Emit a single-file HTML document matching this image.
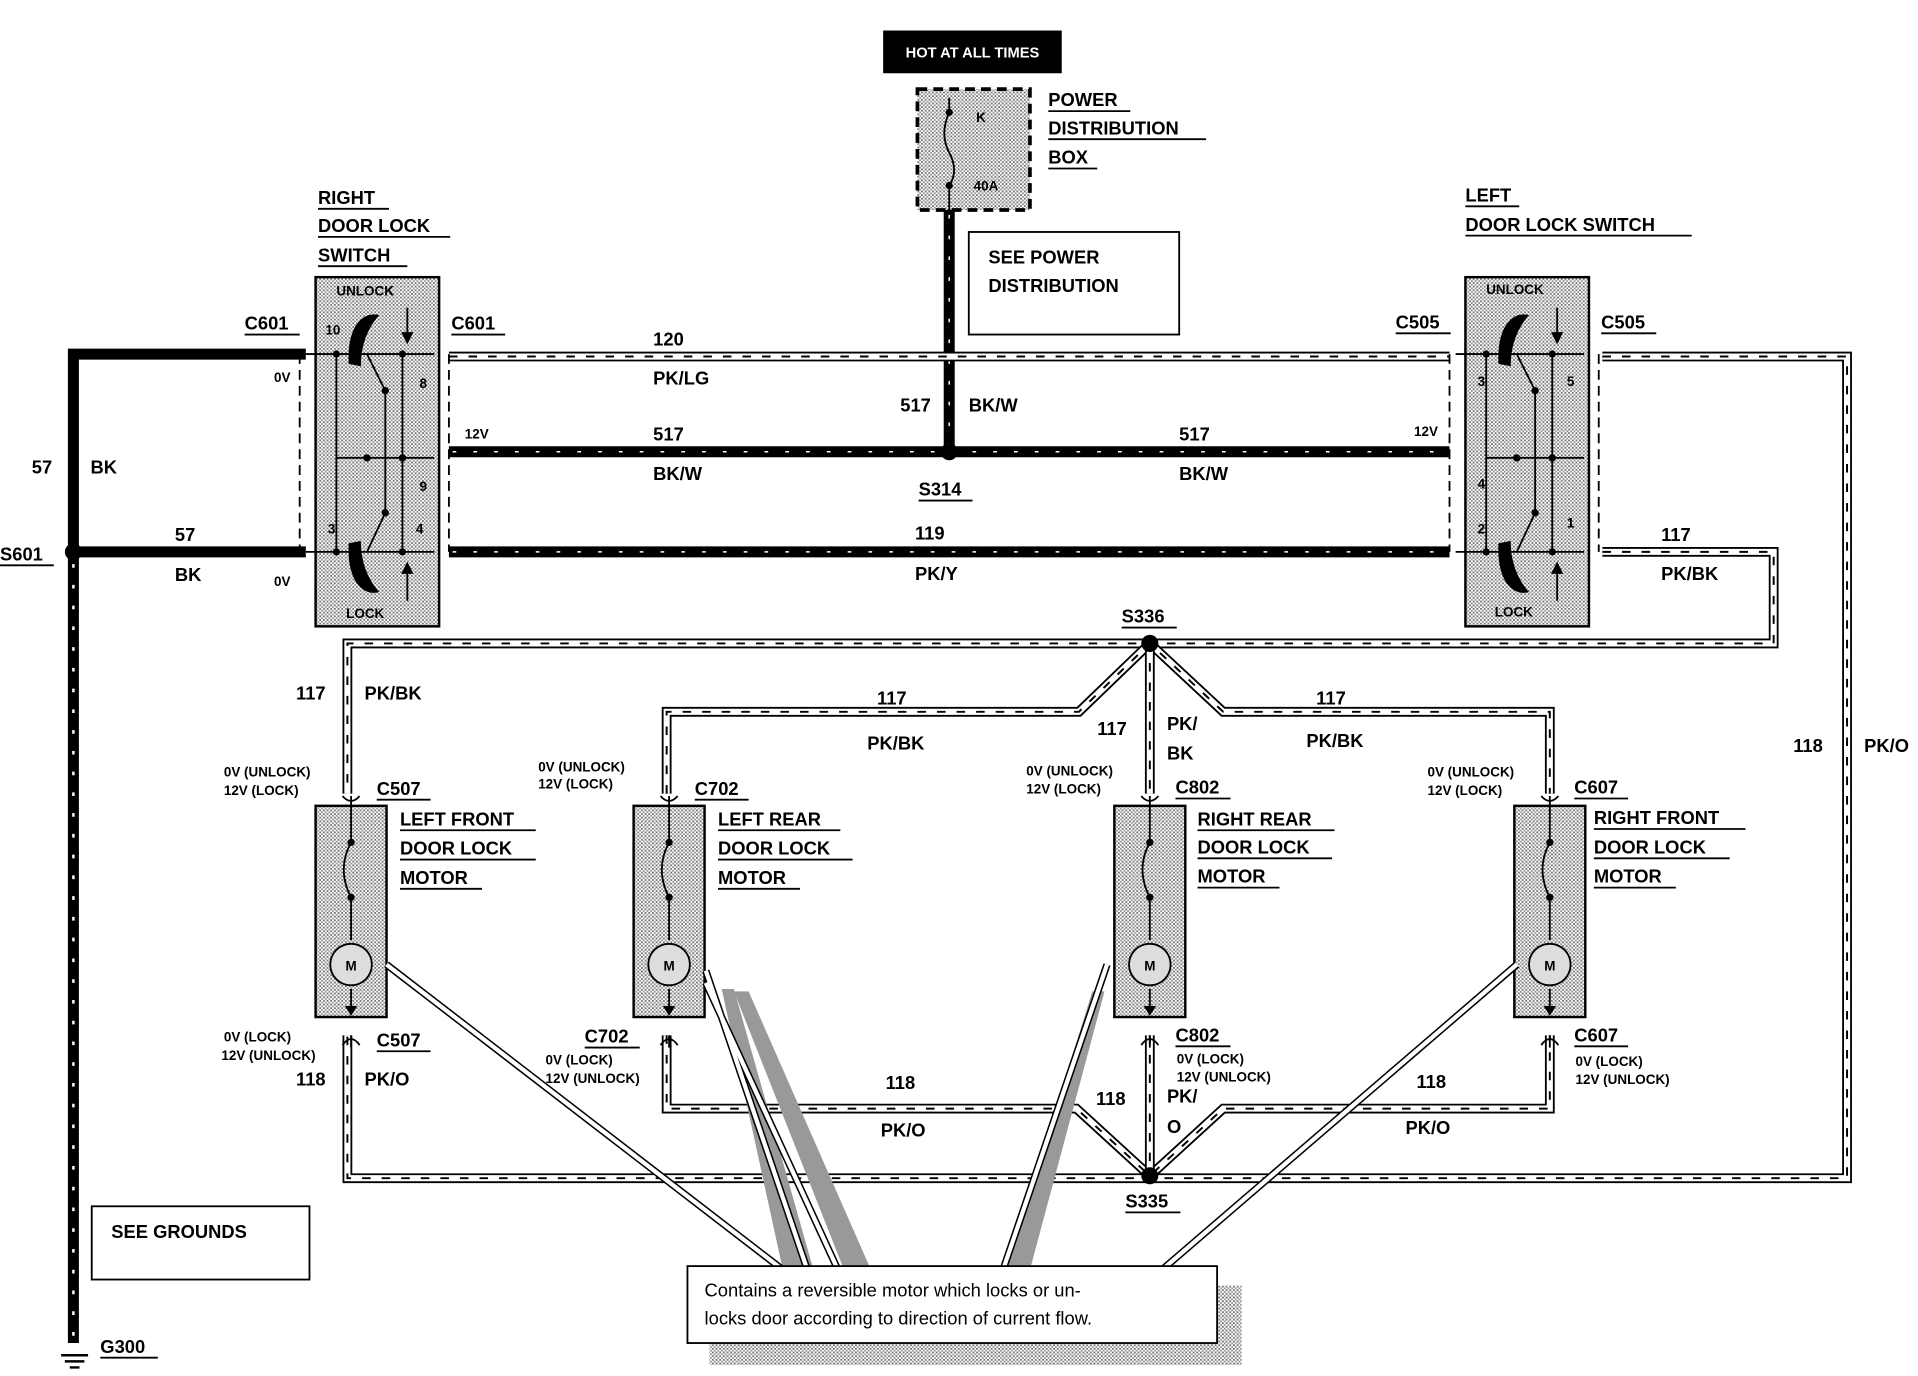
<!DOCTYPE html>
<html><head><meta charset="utf-8"><style>
html,body{margin:0;padding:0;background:#fff;}
svg{display:block;font-family:"Liberation Sans",sans-serif;}
.t{font-weight:bold;font-size:15px;fill:#000;}
.s{font-weight:bold;font-size:11px;fill:#000;}
.h1{fill:none;stroke:#000;stroke-width:8;}
.h2{fill:none;stroke:#fff;stroke-width:5;}
.h3{fill:none;stroke:#000;stroke-width:1.6;stroke-dasharray:7 9;}
.k1{fill:none;stroke:#000;stroke-width:9;}
.k2{fill:none;stroke:#fff;stroke-width:1.2;stroke-dasharray:3 14;}
.ln{fill:none;stroke:#000;stroke-width:1.5;}
.dash{fill:none;stroke:#000;stroke-width:1.5;stroke-dasharray:8 5;}
.u{fill:none;stroke:#000;stroke-width:1.5;}
</style></head><body>
<svg width="1918" height="1376" viewBox="0 0 1568 1127" preserveAspectRatio="none" xmlns="http://www.w3.org/2000/svg">
<defs>
<pattern id="st" width="3" height="3" patternUnits="userSpaceOnUse"><rect width="3" height="3" fill="#fff"/><rect width="1.5" height="1.5" fill="#777"/><rect x="1.5" y="1.5" width="1.5" height="1.5" fill="#999"/></pattern>
</defs>

<rect x="722" y="25" width="146" height="35" fill="#000"/>
<text x="795" y="47" text-anchor="middle" font-size="12" fill="#fff" font-weight="bold">HOT AT ALL TIMES</text>
<rect x="750" y="73" width="92" height="99" style="fill:url(#st);stroke:#000;stroke-width:3;stroke-dasharray:8 5"/>
<path class="ln" d="M776 92 Q768 110 776 125 Q784 140 776 152 M776 80 V92 M776 152 V172"/>
<circle cx="776" cy="92" r="3"/><circle cx="776" cy="152" r="3"/>
<text x="798" y="100" class="s" font-weight="normal">K</text><text x="796" y="156" class="s">40A</text>
<text x="857" y="87" class="t">POWER</text><line class="u" x1="857" y1="91" x2="924" y2="91"/>
<text x="857" y="110" class="t">DISTRIBUTION</text><line class="u" x1="857" y1="114" x2="986" y2="114"/>
<text x="857" y="134" class="t">BOX</text><line class="u" x1="857" y1="138" x2="897" y2="138"/>
<rect x="792" y="190" width="172" height="84" fill="#fff" class="ln"/>
<text x="808" y="216" class="t">SEE POWER</text><text x="808" y="239" class="t">DISTRIBUTION</text>

<path class="k1" d="M776 172 V370"/><path class="k2" d="M776 176 V366"/>
<path class="k1" d="M367 370 H1185"/><path class="k2" d="M370 370 H1182"/>
<path class="k1" d="M367 452 H1185"/><path class="k2" d="M370 452 H1182"/>
<path class="k1" d="M250 290 H60 V452 H250"/>
<path class="k1" d="M60 452 V1100"/><path stroke="#fff" stroke-width="2" fill="none" stroke-dasharray="3 14" d="M60 462 V1095"/>
<circle cx="776" cy="370" r="7"/><circle cx="60" cy="452" r="7"/>

<g>
<path class="h1" d="M367 292 H1185"/><path class="h2" d="M367 292 H1185"/><path class="h3" d="M367 292 H1185"/>
<path class="h1" d="M1310 292 H1510 V965 H284 V848"/><path class="h2" d="M1310 292 H1510 V965 H284 V848"/><path class="h3" d="M1310 292 H1510 V965 H284 V848"/>
<path class="h1" d="M1310 452 H1450 V527 H284 V650"/><path class="h2" d="M1310 452 H1450 V527 H284 V650"/><path class="h3" d="M1310 452 H1450 V527 H284 V650"/>
<path class="h1" d="M545 650 V583 H882 L940 527 L1000 583 H1267 V650"/><path class="h2" d="M545 650 V583 H882 L940 527 L1000 583 H1267 V650"/><path class="h3" d="M545 650 V583 H882 L940 527 L1000 583 H1267 V650"/>
<path class="h1" d="M940 527 V650"/><path class="h2" d="M940 527 V650"/><path class="h3" d="M940 527 V650"/>
<path class="h1" d="M545 848 V908 H880 L940 963 L1000 908 H1267 V848"/><path class="h2" d="M545 848 V908 H880 L940 963 L1000 908 H1267 V848"/><path class="h3" d="M545 848 V908 H880 L940 963 L1000 908 H1267 V848"/>
<path class="h1" d="M940 848 V963"/><path class="h2" d="M940 848 V963"/><path class="h3" d="M940 848 V963"/>
</g>
<circle cx="940" cy="527" r="7"/><circle cx="940" cy="963" r="7"/>

<g id="sw">
<rect x="258" y="227" width="101" height="286" fill="url(#st)" stroke="#000" stroke-width="2"/>
<path class="dash" d="M245 290 V452 M367 290 V452"/>
<path class="ln" d="M250 290 H355 M250 452 H355 M275 290 V452 M329 290 V452 M300 290 L315 320 V375 M300 452 L315 420 V375 M275 375 H355"/>
<path d="M290 268 Q298 255 310 258 Q295 275 295 300 L285 298 Q284 280 290 268Z" fill="#000"/>
<path d="M290 475 Q298 488 310 485 Q295 468 295 443 L285 445 Q284 463 290 475Z" fill="#000"/>
<path class="ln" d="M333 252 V278 M333 492 V465"/><path d="M328 272 L333 282 L338 272Z M328 470 L333 460 L338 470Z"/>
<circle cx="275" cy="290" r="3"/><circle cx="329" cy="290" r="3"/><circle cx="275" cy="452" r="3"/><circle cx="329" cy="452" r="3"/><circle cx="315" cy="320" r="3"/><circle cx="315" cy="420" r="3"/><circle cx="329" cy="375" r="3"/><circle cx="300" cy="375" r="3"/>
</g>
<text x="275" y="242" class="s" font-weight="normal">UNLOCK</text><text x="283" y="506" class="s" font-weight="normal">LOCK</text>
<text x="266" y="274" class="s">10</text><text x="343" y="318" class="s">8</text><text x="343" y="402" class="s">9</text><text x="268" y="437" class="s">3</text><text x="340" y="437" class="s">4</text>
<use href="#sw" transform="translate(940 0)"/>
<text x="1215" y="241" class="s" font-weight="normal">UNLOCK</text><text x="1222" y="505" class="s" font-weight="normal">LOCK</text>
<text x="1208" y="316" class="s">3</text><text x="1281" y="316" class="s">5</text><text x="1208" y="400" class="s">4</text><text x="1208" y="437" class="s">2</text><text x="1281" y="432" class="s">1</text>

<text x="260" y="167" class="t">RIGHT</text><line class="u" x1="260" y1="171" x2="318" y2="171"/>
<text x="260" y="190" class="t">DOOR LOCK</text><line class="u" x1="260" y1="194" x2="368" y2="194"/>
<text x="260" y="214" class="t">SWITCH</text><line class="u" x1="260" y1="218" x2="333" y2="218"/>
<text x="1198" y="165" class="t">LEFT</text><line class="u" x1="1198" y1="169" x2="1242" y2="169"/>
<text x="1198" y="189" class="t">DOOR LOCK SWITCH</text><line class="u" x1="1198" y1="193" x2="1383" y2="193"/>

<text x="200" y="270" class="t">C601</text><line class="u" x1="200" y1="274" x2="245" y2="274"/>
<text x="369" y="270" class="t">C601</text><line class="u" x1="369" y1="274" x2="413" y2="274"/>
<text x="1141" y="269" class="t">C505</text><line class="u" x1="1141" y1="273" x2="1186" y2="273"/>
<text x="1309" y="269" class="t">C505</text><line class="u" x1="1309" y1="273" x2="1354" y2="273"/>
<text x="224" y="313" class="s">0V</text><text x="224" y="480" class="s">0V</text>
<text x="380" y="359" class="s">12V</text><text x="1156" y="357" class="s">12V</text>
<text x="534" y="283" class="t">120</text><text x="534" y="315" class="t">PK/LG</text>
<text x="534" y="361" class="t">517</text><text x="534" y="393" class="t">BK/W</text>
<text x="964" y="361" class="t">517</text><text x="964" y="393" class="t">BK/W</text>
<text x="736" y="337" class="t">517</text><text x="792" y="337" class="t">BK/W</text>
<text x="751" y="406" class="t">S314</text><line class="u" x1="751" y1="410" x2="795" y2="410"/>
<text x="748" y="442" class="t">119</text><text x="748" y="475" class="t">PK/Y</text>
<text x="1358" y="443" class="t">117</text><text x="1358" y="475" class="t">PK/BK</text>
<text x="26" y="388" class="t">57</text><text x="74" y="388" class="t">BK</text>
<text x="143" y="443" class="t">57</text><text x="143" y="476" class="t">BK</text>
<text x="0" y="459" class="t">S601</text><line class="u" x1="0" y1="463" x2="44" y2="463"/>
<text x="917" y="510" class="t">S336</text><line class="u" x1="917" y1="514" x2="962" y2="514"/>

<text x="242" y="573" class="t">117</text><text x="298" y="573" class="t">PK/BK</text>
<text x="717" y="577" class="t">117</text><text x="709" y="614" class="t">PK/BK</text>
<text x="897" y="602" class="t">117</text><text x="954" y="598" class="t">PK/</text><text x="954" y="622" class="t">BK</text>
<text x="1076" y="577" class="t">117</text><text x="1068" y="612" class="t">PK/BK</text>
<text x="1466" y="616" class="t">118</text><text x="1524" y="616" class="t">PK/O</text>

<g id="mo">
<rect x="258" y="660" width="58" height="173" fill="url(#st)" stroke="#000" stroke-width="2"/>
<path class="ln" d="M287 652 V690 M287 735 V770 M287 810 V830 M287 848 V858 M280 652 Q287 660 294 652 M280 856 Q287 846 294 856"/>
<path class="ln" d="M287 690 Q275 712 287 735"/>
<circle cx="287" cy="690" r="3"/><circle cx="287" cy="735" r="3"/>
<circle cx="287" cy="790" r="17" fill="#ddd" stroke="#000" stroke-width="1.5"/>
<text x="287" y="795" text-anchor="middle" class="s" font-weight="normal">M</text>
<path d="M282 824 L287 832 L292 824Z"/>
</g>
<use href="#mo" transform="translate(260 0)"/>
<use href="#mo" transform="translate(653 0)"/>
<use href="#mo" transform="translate(980 0)"/>

<text x="308" y="651" class="t">C507</text><line class="u" x1="308" y1="655" x2="352" y2="655"/>
<text x="568" y="651" class="t">C702</text><line class="u" x1="568" y1="655" x2="612" y2="655"/>
<text x="961" y="650" class="t">C802</text><line class="u" x1="961" y1="654" x2="1006" y2="654"/>
<text x="1287" y="650" class="t">C607</text><line class="u" x1="1287" y1="654" x2="1331" y2="654"/>
<text x="183" y="636" class="s">0V (UNLOCK)</text><text x="183" y="651" class="s">12V (LOCK)</text>
<text x="440" y="632" class="s">0V (UNLOCK)</text><text x="440" y="646" class="s">12V (LOCK)</text>
<text x="839" y="635" class="s">0V (UNLOCK)</text><text x="839" y="650" class="s">12V (LOCK)</text>
<text x="1167" y="636" class="s">0V (UNLOCK)</text><text x="1167" y="651" class="s">12V (LOCK)</text>
<g class="t">
<text x="327" y="676">LEFT FRONT</text><text x="327" y="700">DOOR LOCK</text><text x="327" y="724">MOTOR</text>
<text x="587" y="676">LEFT REAR</text><text x="587" y="700">DOOR LOCK</text><text x="587" y="724">MOTOR</text>
<text x="979" y="676">RIGHT REAR</text><text x="979" y="699">DOOR LOCK</text><text x="979" y="723">MOTOR</text>
<text x="1303" y="675">RIGHT FRONT</text><text x="1303" y="699">DOOR LOCK</text><text x="1303" y="723">MOTOR</text>
</g>
<g class="u"><line x1="327" y1="680" x2="438" y2="680"/><line x1="327" y1="704" x2="438" y2="704"/><line x1="327" y1="728" x2="394" y2="728"/>
<line x1="587" y1="680" x2="687" y2="680"/><line x1="587" y1="704" x2="697" y2="704"/><line x1="587" y1="728" x2="654" y2="728"/>
<line x1="979" y1="680" x2="1091" y2="680"/><line x1="979" y1="703" x2="1089" y2="703"/><line x1="979" y1="727" x2="1046" y2="727"/>
<line x1="1303" y1="679" x2="1427" y2="679"/><line x1="1303" y1="703" x2="1414" y2="703"/><line x1="1303" y1="727" x2="1370" y2="727"/></g>

<text x="308" y="857" class="t">C507</text><line class="u" x1="308" y1="861" x2="352" y2="861"/>
<text x="478" y="854" class="t">C702</text><line class="u" x1="478" y1="858" x2="523" y2="858"/>
<text x="961" y="853" class="t">C802</text><line class="u" x1="961" y1="857" x2="1006" y2="857"/>
<text x="1287" y="853" class="t">C607</text><line class="u" x1="1287" y1="857" x2="1331" y2="857"/>
<text x="183" y="853" class="s">0V (LOCK)</text><text x="181" y="868" class="s">12V (UNLOCK)</text>
<text x="446" y="872" class="s">0V (LOCK)</text><text x="446" y="887" class="s">12V (UNLOCK)</text>
<text x="962" y="871" class="s">0V (LOCK)</text><text x="962" y="886" class="s">12V (UNLOCK)</text>
<text x="1288" y="873" class="s">0V (LOCK)</text><text x="1288" y="888" class="s">12V (UNLOCK)</text>
<text x="242" y="889" class="t">118</text><text x="298" y="889" class="t">PK/O</text>
<text x="724" y="892" class="t">118</text><text x="720" y="931" class="t">PK/O</text>
<text x="896" y="905" class="t">118</text><text x="954" y="903" class="t">PK/</text><text x="954" y="928" class="t">O</text>
<text x="1158" y="891" class="t">118</text><text x="1149" y="929" class="t">PK/O</text>
<text x="920" y="989" class="t">S335</text><line class="u" x1="920" y1="993" x2="965" y2="993"/>

<!-- grey shadow wedges -->
<polygon points="590,810 600,810 665,1040 640,1040" fill="#999"/>
<polygon points="600,812 612,812 712,1040 690,1040" fill="#999"/>
<polygon points="893,812 903,812 842,1040 822,1040" fill="#999"/>
<g fill="none" stroke="#000" stroke-width="6">
<path d="M316 790 L640 1040 M577 795 L660 1040 M577 805 L685 1040 M905 790 L820 1040 M1240 790 L950 1040"/>
</g>
<g fill="none" stroke="#fff" stroke-width="3.5">
<path d="M316 790 L640 1040 M577 795 L660 1040 M577 805 L685 1040 M905 790 L820 1040 M1240 790 L950 1040"/>
</g>
<rect x="580" y="1053" width="435" height="65" fill="url(#st)"/>
<rect x="562" y="1037" width="433" height="63" fill="#fff" stroke="#000" stroke-width="1.5"/>
<text x="576" y="1062" font-size="15" fill="#000">Contains a reversible motor which locks or un-</text>
<text x="576" y="1085" font-size="15" fill="#000">locks door according to direction of current flow.</text>

<rect x="75" y="988" width="178" height="60" fill="#fff" stroke="#000" stroke-width="1.5"/>
<text x="91" y="1014" class="t">SEE GROUNDS</text>
<path stroke="#000" stroke-width="2" d="M50 1110 H72 M53 1115 H69 M57 1120 H65"/>
<text x="82" y="1108" class="t">G300</text><line class="u" x1="82" y1="1112" x2="129" y2="1112"/>
</svg>
</body></html>
